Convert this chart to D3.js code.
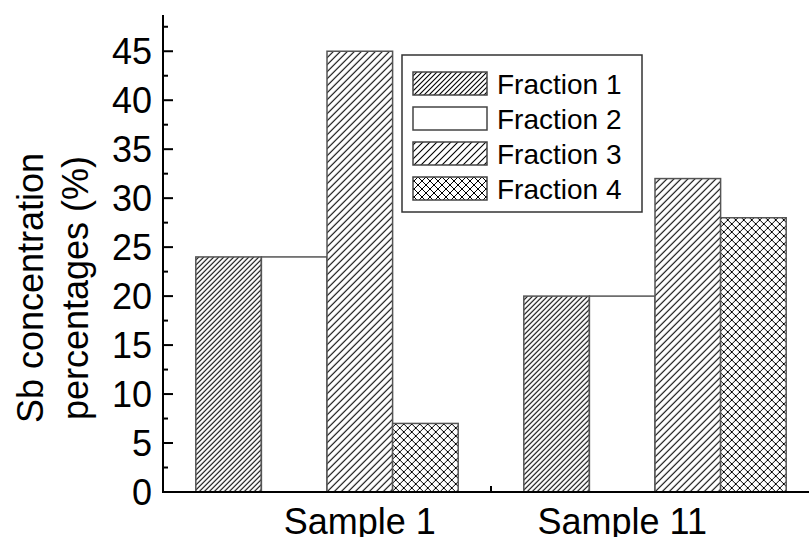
<!DOCTYPE html>
<html lang="en">

<head>
  <meta charset="utf-8">
  <title>Sb fractions</title>
  <script src="https://cdn.jsdelivr.net/npm/d3@7"></script>
  <style>
    body { margin: 0; background: #fff; }
    text { font-family: "Liberation Sans", Arial, sans-serif; fill: #000; }
  </style>
</head>

<body>
  <svg id="chart" width="809" height="537"></svg>

  <script>
    // data
    var samples = ["Sample 1", "Sample 11"];
    var fractions = ["Fraction 1", "Fraction 2", "Fraction 3", "Fraction 4"];
    var fraction1 = [24, 20];
    var fraction2 = [24, 20];
    var fraction3 = [45, 32];
    var fraction4 = [7, 28];
    var yTicks = [0, 5, 10, 15, 20, 25, 30, 35, 40, 45];

    var series = [fraction1, fraction2, fraction3, fraction4];

    var svg = d3.select("#chart");
    // plot area (note: "top" is taken by window.top)
    var plotLeft = 163, plotRight = 819, plotTop = 15, plotBottom = 492;

    // patterns
    var defs = svg.append("defs");
    function hatch(id, w, cross, sw) {
      var p = defs.append("pattern")
        .attr("id", id)
        .attr("patternUnits", "userSpaceOnUse")
        .attr("width", w).attr("height", w);
      var d = "M0," + w + "L" + w + ",0M-1,1L1,-1M" + (w - 1) + "," + (w + 1) + "L" + (w + 1) + "," + (w - 1);
      if (cross) d += "M0,0L" + w + "," + w + "M-1," + (w - 1) + "L1," + (w + 1) + "M" + (w - 1) + ",-1L" + (w + 1) + ",1";
      p.append("rect").attr("width", w).attr("height", w).attr("fill", "#fff");
      p.append("path").attr("d", d).attr("stroke", "#000").attr("stroke-width", sw);
    }
    hatch("f1", 5, false, 1.1);
    hatch("f3", 7, false, 1.1);
    hatch("f4", 8, true, 1);
    var fills = ["url(#f1)", "#fff", "url(#f3)", "url(#f4)"];

    // scales
    var x0 = d3.scaleBand().domain(samples).range([plotLeft, plotRight]).paddingInner(0.2).paddingOuter(0.1);
    var x1 = d3.scaleBand().domain(fractions).range([0, x0.bandwidth()]);
    var xl = d3.scalePoint().domain(samples).range([plotLeft, plotRight]).padding(0.75);
    var y = d3.scaleLinear().domain([0, 48.7]).range([plotBottom, plotTop]);

    // bars
    var groups = svg.append("g").selectAll("g")
      .data(samples)
      .join("g")
      .attr("transform", function (d) { return "translate(" + x0(d) + ",0)"; });

    groups.selectAll("rect")
      .data(function (d, i) { return fractions.map(function (f, j) { return { f: f, j: j, v: series[j][i] }; }); })
      .join("rect")
      .attr("x", function (d) { return x1(d.f); })
      .attr("y", function (d) { return y(d.v); })
      .attr("width", x1.bandwidth())
      .attr("height", function (d) { return plotBottom - y(d.v); })
      .attr("fill", function (d) { return fills[d.j]; })
      .attr("stroke", "#555")
      .attr("stroke-width", 1.5);

    // y axis
    var yAxis = svg.append("g");
    yAxis.append("line")
      .attr("x1", plotLeft).attr("x2", plotLeft).attr("y1", plotTop).attr("y2", plotBottom + 1)
      .attr("stroke", "#000").attr("stroke-width", 2);
    var minor = d3.range(2.5, 48, 5);
    yAxis.selectAll(".major").data(yTicks).join("line")
      .attr("class", "major")
      .attr("x1", plotLeft).attr("x2", plotLeft + 10)
      .attr("y1", function (d) { return y(d); }).attr("y2", function (d) { return y(d); })
      .attr("stroke", "#000").attr("stroke-width", 2);
    yAxis.selectAll(".minor").data(minor).join("line")
      .attr("class", "minor")
      .attr("x1", plotLeft).attr("x2", plotLeft + 5)
      .attr("y1", function (d) { return y(d); }).attr("y2", function (d) { return y(d); })
      .attr("stroke", "#000").attr("stroke-width", 2);
    yAxis.selectAll("text").data(yTicks).join("text")
      .attr("x", 152)
      .attr("y", function (d) { return y(d); })
      .attr("dy", "0.36em")
      .attr("text-anchor", "end")
      .attr("font-size", 36)
      .text(function (d) { return d; });

    // y title
    var yTitle = svg.append("text")
      .attr("transform", "translate(0,288) rotate(-90)")
      .attr("text-anchor", "middle")
      .attr("font-size", 36);
    yTitle.append("tspan").attr("x", 0).attr("y", 43).text("Sb concentration");
    yTitle.append("tspan").attr("x", 0).attr("y", 88).text("percentages (%)");

    // x axis
    svg.append("line")
      .attr("x1", plotLeft - 1).attr("x2", plotRight).attr("y1", plotBottom).attr("y2", plotBottom)
      .attr("stroke", "#000").attr("stroke-width", 2);
    svg.append("line")
      .attr("x1", plotLeft + x0.step()).attr("x2", plotLeft + x0.step())
      .attr("y1", plotBottom).attr("y2", plotBottom - 6)
      .attr("stroke", "#000").attr("stroke-width", 2);
    svg.append("g").selectAll("text").data(samples).join("text")
      .attr("x", function (d) { return xl(d); })
      .attr("y", 534)
      .attr("text-anchor", "middle")
      .attr("font-size", 36)
      .text(function (d) { return d; });

    // legend
    var legend = svg.append("g").attr("transform", "translate(402,55)");
    legend.append("rect")
      .attr("width", 240).attr("height", 157)
      .attr("fill", "#fff").attr("stroke", "#333").attr("stroke-width", 1.5);
    var rows = legend.selectAll(".row").data(fractions).join("g")
      .attr("transform", function (d, i) { return "translate(0," + (17 + i * 35) + ")"; });
    rows.append("rect")
      .attr("x", 11).attr("width", 74).attr("height", 23)
      .attr("fill", function (d, i) { return fills[i]; })
      .attr("stroke", "#444").attr("stroke-width", 1.5);
    rows.append("text")
      .attr("x", 95).attr("y", 22)
      .attr("font-size", 28)
      .text(function (d) { return d; });
  </script>
</body>

</html>
